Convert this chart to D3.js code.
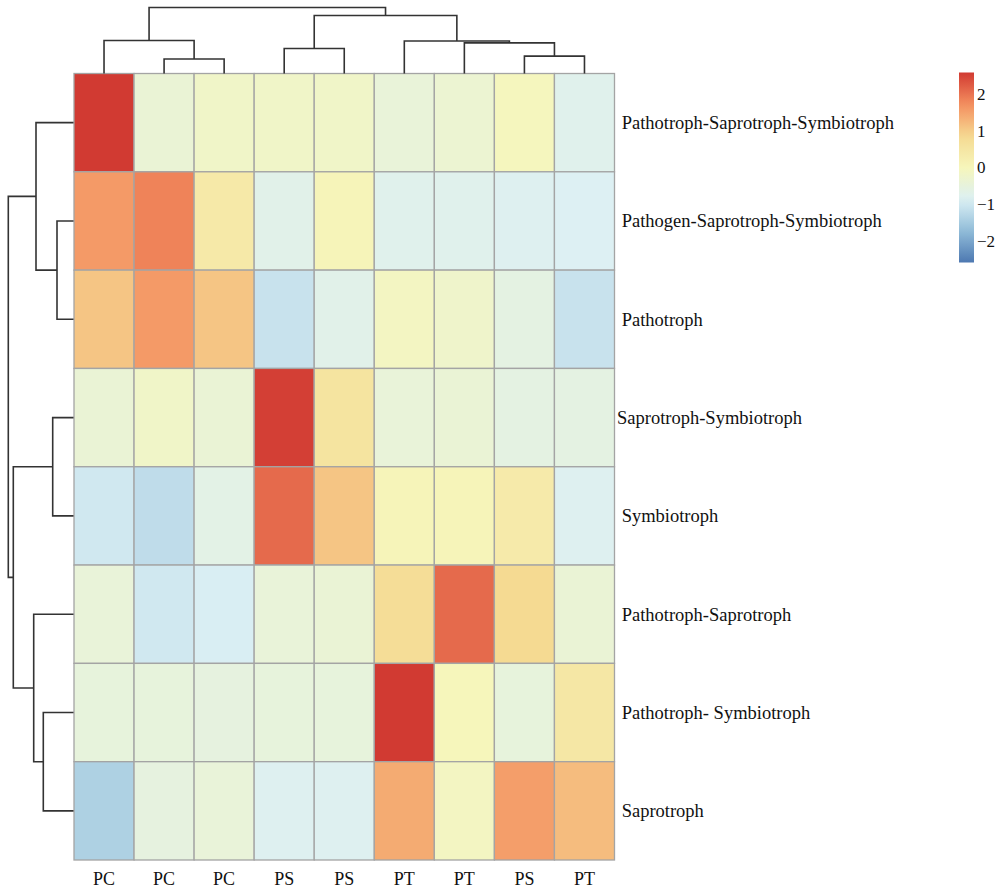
<!DOCTYPE html>
<html>
<head>
<meta charset="utf-8">
<script src="https://cdn.jsdelivr.net/npm/d3@7"></script>
<style>
  html, body { margin: 0; padding: 0; background: #fff; }
  svg { display: block; font-family: "Liberation Serif", "Times New Roman", serif; }
  .rowlab { white-space: pre; }
</style>
</head>
<body>
<svg id="chart" width="1002" height="890"></svg>
<script>
// Samples (columns, in clustered order) and functional guilds (rows, in clustered order)
const colLabels = ["PC", "PC", "PC", "PS", "PS", "PT", "PT", "PS", "PT"];
const rowLabels = [
  " Pathotroph-Saprotroph-Symbiotroph",
  " Pathogen-Saprotroph-Symbiotroph",
  " Pathotroph",
  "Saprotroph-Symbiotroph",
  " Symbiotroph",
  " Pathotroph-Saprotroph",
  " Pathotroph- Symbiotroph",
  " Saprotroph"
];

// Row-scaled abundance (z-scores), one array per guild
const rowPSS  = [ 2.60, -0.40, -0.20, -0.20, -0.20, -0.45, -0.35, -0.05, -0.75];
const rowPgSS = [ 1.60,  1.85,  0.40, -0.70,  0.05, -0.75, -0.75, -0.80, -0.85];
const rowPt   = [ 1.10,  1.60,  1.10, -1.10, -0.70, -0.10, -0.25, -0.60, -1.10];
const rowSSy  = [-0.40, -0.20, -0.40,  2.55,  0.55, -0.45, -0.40, -0.60, -0.60];
const rowSy   = [-1.00, -1.20, -0.65,  2.10,  1.10,  0.05,  0.05,  0.35, -0.80];
const rowPtS  = [-0.45, -1.00, -0.90, -0.45, -0.40,  0.75,  2.10,  0.85, -0.40];
const rowPtSy = [-0.50, -0.50, -0.55, -0.50, -0.50,  2.60,  0.00, -0.50,  0.45];
const rowS    = [-1.40, -0.55, -0.45, -0.80, -0.80,  1.40, -0.10,  1.55,  1.20];
const values = [rowPSS, rowPgSS, rowPt, rowSSy, rowSy, rowPtS, rowPtSy, rowS];

// Hierarchical clustering results (hclust-style merge tables and heights)
const colMerge  = [[-2, -3], [-8, -9], [-4, -5], [-7, 2], [-6, 4], [-1, 1], [3, 5], [6, 7]];
const colHeight = [1.45, 1.74, 2.50, 3.06, 3.25, 3.30, 5.80, 6.60];
const rowMerge  = [[-2, -3], [-4, -5], [-7, -8], [-1, 1], [-6, 3], [2, 5], [4, 6]];
const rowHeight = [1.65, 2.08, 3.02, 3.75, 3.98, 6.02, 6.52];

// Colour legend
const legendTicks = [-2, -1, 0, 1, 2];
const colorLimit = 2.6;
const palette = ["#4d78b1", "#91bdd9", "#dcf0f4", "#f6f6bb", "#f5d991", "#f48e5f", "#d13a32"];

const svg = d3.select("#chart");

const x = d3.scaleBand().domain(d3.range(colLabels.length)).range([74, 614.5]);
const y = d3.scaleBand().domain(d3.range(rowLabels.length)).range([73.5, 860]);

const color = d3.scaleLinear()
  .domain(d3.range(palette.length).map(i => -colorLimit + i * 2 * colorLimit / (palette.length - 1)))
  .range(palette)
  .interpolate(d3.interpolateRgb)
  .clamp(true);

// Heatmap cells
const cells = [];
values.forEach((row, r) => row.forEach((v, c) => cells.push({ r, c, v })));
svg.append("g")
  .selectAll("rect")
  .data(cells)
  .join("rect")
  .attr("x", d => x(d.c))
  .attr("y", d => y(d.r))
  .attr("width", x.bandwidth())
  .attr("height", y.bandwidth())
  .attr("fill", d => color(d.v))
  .attr("stroke", "#a4a4a4")
  .attr("stroke-width", 1.3);

// Dendrogram builder: returns elbow segments for an hclust merge table
function dendroSegments(merge, heights, leafPos) {
  const nodes = [];
  const node = id => id < 0 ? { pos: leafPos(-id - 1), h: 0 } : nodes[id - 1];
  const segs = [];
  merge.forEach((m, i) => {
    const a = node(m[0]), b = node(m[1]), h = heights[i];
    segs.push({ a, b, h });
    nodes.push({ pos: (a.pos + b.pos) / 2, h });
  });
  return segs;
}

// Column dendrogram (top)
const colTreeY = d3.scaleLinear().domain([0, d3.max(colHeight)]).range([73.5, 7.5]);
const colSegs = dendroSegments(colMerge, colHeight, i => x(i) + x.bandwidth() / 2);
svg.append("g")
  .selectAll("path")
  .data(colSegs)
  .join("path")
  .attr("fill", "none")
  .attr("stroke", "#333")
  .attr("stroke-width", 1.6)
  .attr("d", s => `M${s.a.pos},${colTreeY(s.a.h)}V${colTreeY(s.h)}H${s.b.pos}V${colTreeY(s.b.h)}`);

// Row dendrogram (left)
const rowTreeX = d3.scaleLinear().domain([0, d3.max(rowHeight)]).range([73.5, 8.3]);
const rowSegs = dendroSegments(rowMerge, rowHeight, i => y(i) + y.bandwidth() / 2);
svg.append("g")
  .selectAll("path")
  .data(rowSegs)
  .join("path")
  .attr("fill", "none")
  .attr("stroke", "#333")
  .attr("stroke-width", 1.6)
  .attr("d", s => `M${rowTreeX(s.a.h)},${s.a.pos}H${rowTreeX(s.h)}V${s.b.pos}H${rowTreeX(s.b.h)}`);

// Column labels
svg.append("g")
  .selectAll("text")
  .data(colLabels)
  .join("text")
  .attr("x", (d, i) => x(i) + x.bandwidth() / 2)
  .attr("y", 885)
  .attr("text-anchor", "middle")
  .attr("font-size", 18)
  .attr("fill", "#111")
  .text(d => d);

// Row labels
svg.append("g")
  .selectAll("text")
  .data(rowLabels)
  .join("text")
  .attr("class", "rowlab")
  .attr("x", 617)
  .attr("y", (d, i) => y(i) + y.bandwidth() / 2)
  .attr("dy", "0.35em")
  .attr("font-size", 18.5)
  .attr("fill", "#111")
  .text(d => d);

// Colour legend
const legY = d3.scaleLinear().domain([-colorLimit, colorLimit]).range([262.5, 72.5]);
const defs = svg.append("defs");
const grad = defs.append("linearGradient")
  .attr("id", "legendGrad")
  .attr("x1", 0).attr("y1", 1).attr("x2", 0).attr("y2", 0);
grad.selectAll("stop")
  .data(d3.range(0, 1.0001, 0.05))
  .join("stop")
  .attr("offset", t => t)
  .attr("stop-color", t => color(-colorLimit + t * 2 * colorLimit));

svg.append("rect")
  .attr("x", 959)
  .attr("y", legY(colorLimit))
  .attr("width", 15)
  .attr("height", legY(-colorLimit) - legY(colorLimit))
  .attr("fill", "url(#legendGrad)");

svg.append("g")
  .selectAll("text")
  .data(legendTicks)
  .join("text")
  .attr("x", 977)
  .attr("y", d => legY(d))
  .attr("dy", "0.35em")
  .attr("font-size", 17)
  .attr("fill", "#111")
  .text(d => d3.format("d")(d));
</script>
</body>
</html>
